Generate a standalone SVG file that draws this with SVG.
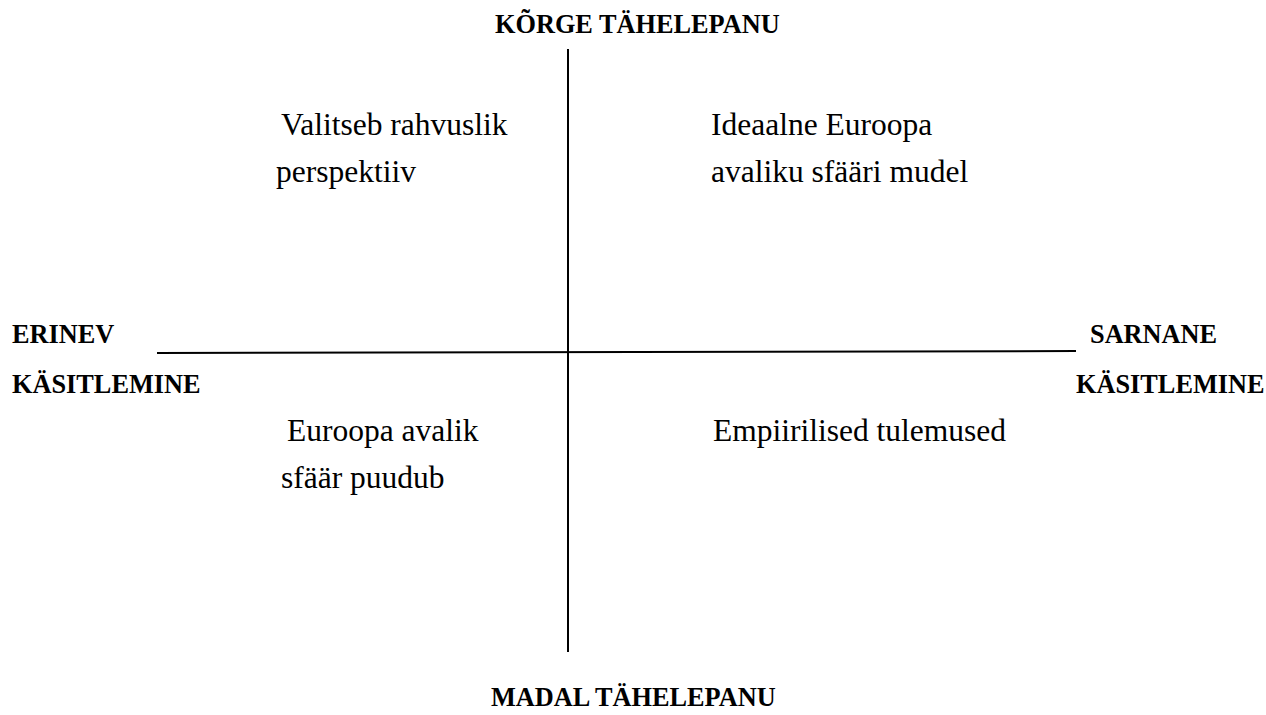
<svg xmlns="http://www.w3.org/2000/svg" width="1266" height="715" viewBox="0 0 1266 715">
<style>
.b{font-family:"Liberation Serif","Times New Roman",serif;font-weight:bold;font-size:26.3px;fill:#000}
.r{font-family:"Liberation Serif","Times New Roman",serif;font-size:31.5px;fill:#000}
.ax{stroke:#000;stroke-width:2;fill:none}
</style>
<rect width="1266" height="715" fill="#fff"/>
<g id="connectors">
<line class="ax" x1="568" y1="49" x2="568" y2="652"/>
<line class="ax" x1="157" y1="353" x2="1076" y2="351"/>
</g>
<g id="top-label"><text class="b" x="495" y="33">KÕRGE TÄHELEPANU</text></g>
<g id="bottom-label"><text class="b" x="491" y="706">MADAL TÄHELEPANU</text></g>
<g id="left-label"><text class="b" x="12" y="343">ERINEV</text><text class="b" x="12" y="393">KÄSITLEMINE</text></g>
<g id="right-label"><text class="b" x="1090" y="343">SARNANE</text><text class="b" x="1076" y="393">KÄSITLEMINE</text></g>
<g id="q-top-left"><text class="r" x="281" y="135">Valitseb rahvuslik</text><text class="r" x="276" y="182">perspektiiv</text></g>
<g id="q-top-right"><text class="r" x="711" y="135">Ideaalne Euroopa</text><text class="r" x="711" y="182">avaliku sfääri mudel</text></g>
<g id="q-bottom-left"><text class="r" x="287" y="441">Euroopa avalik</text><text class="r" x="281" y="488">sfäär puudub</text></g>
<g id="q-bottom-right"><text class="r" x="713" y="441">Empiirilised tulemused</text></g>
</svg>
